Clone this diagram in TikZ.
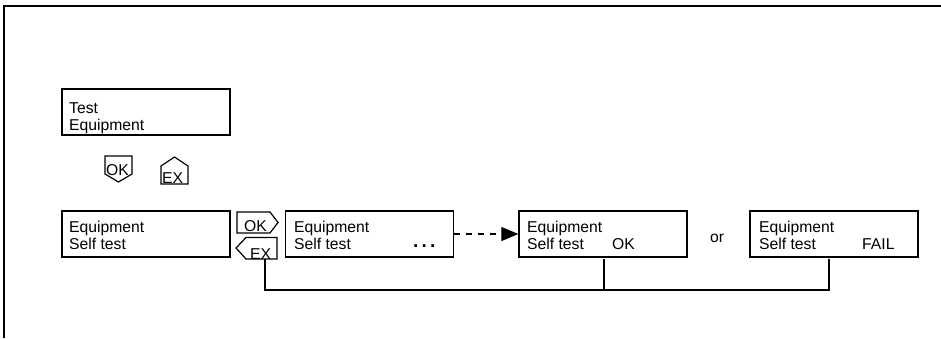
\documentclass[tikz,border=0pt]{standalone}
\usepackage{fontspec}
\setmainfont{Liberation Sans}
\usetikzlibrary{arrows.meta}
\begin{document}
\begin{tikzpicture}[x=1pt,y=-1pt,
  box/.style={draw,line width=1.3pt,inner sep=0pt,minimum width=168pt,minimum height=46pt},
  txt/.style={inner sep=0pt,anchor=base west,font=\fontsize{15.7}{17}\selectfont},
  tagline/.style={draw,line width=1.2pt,line join=miter},
  conn/.style={line width=1.3pt},
  frame/.style={line width=1.5pt}]
\useasboundingbox (0,0) rectangle (941,338);
% frame
\coordinate (fbl) at (4,338);
\coordinate (ftl) at (4,6);
\coordinate (ftr) at (941,6);
\draw[frame] (fbl) -- (ftl) -- (ftr);
% Test Equipment box
\node[box] (te) at (146,112) {};
\node[txt] (te1) at (69,113) {Test};
\node[txt] (te2) at (69,130) {Equipment};
% standalone OK (down) and EX (up) keys
\draw[tagline] (105,156) -- (132,156) -- (132,174) -- (118.5,182) -- (105,174) -- cycle;
\node[txt] (kok) at (106,175) {OK};
\draw[tagline] (161,184) -- (161,166) -- (174.5,157) -- (188,166) -- (188,184) -- cycle;
\node[txt] (kex) at (162,183.5) {EX};
% row boxes
\node[box] (b1) at (146,234) {};
\node[txt] (b1a) at (69,232.5) {Equipment};
\node[txt] (b1b) at (69,249.5) {Self test};
\node[box] (b2) at (369.5,234) {};
\node[txt] (b2a) at (294,232.5) {Equipment};
\node[txt] (b2b) at (294,249.5) {Self test};
\node[txt,font=\fontsize{19}{19}\selectfont\bfseries] (b2c) at (413,247.5) {.\,.\,.};
\node[box] (b3) at (603,234) {};
\node[txt] (b3a) at (527,232.5) {Equipment};
\node[txt] (b3b) at (527,249.5) {Self test};
\node[txt] (b3c) at (612,249.5) {OK};
\node[txt] (or) at (710,242) {or};
\node[box] (b4) at (834,234) {};
\node[txt] (b4a) at (759,232.5) {Equipment};
\node[txt] (b4b) at (759,249.5) {Self test};
\node[txt] (b4c) at (862,249.5) {FAIL};
% tags
\draw[tagline] (237,212) -- (270,212) -- (278,222.5) -- (270,233) -- (237,233) -- cycle;
\node[txt] (tok) at (244,231) {OK};
\draw[tagline] (236,248) -- (246,237.5) -- (277,237.5) -- (277,259) -- (246,259) -- cycle;
\node[txt] (tex) at (250,259.5) {EX};
% dashed arrow
\draw[line width=1.2pt,dash pattern=on 6pt off 6pt,-{Triangle[length=17pt,width=14pt]}] (b2.east) -- (b3.west);
% return connector
\coordinate (exb) at (265,259);
\coordinate (c1) at (265,290);
\coordinate (b3s) at (604,259);
\coordinate (c3) at (604,290);
\coordinate (b4s) at (829,259);
\coordinate (c4) at (829,290);
\draw[conn] (exb) -- (c1) -- (c4) -- (b4s);
\draw[conn] (b3s) -- (c3);
\end{tikzpicture}
\end{document}
